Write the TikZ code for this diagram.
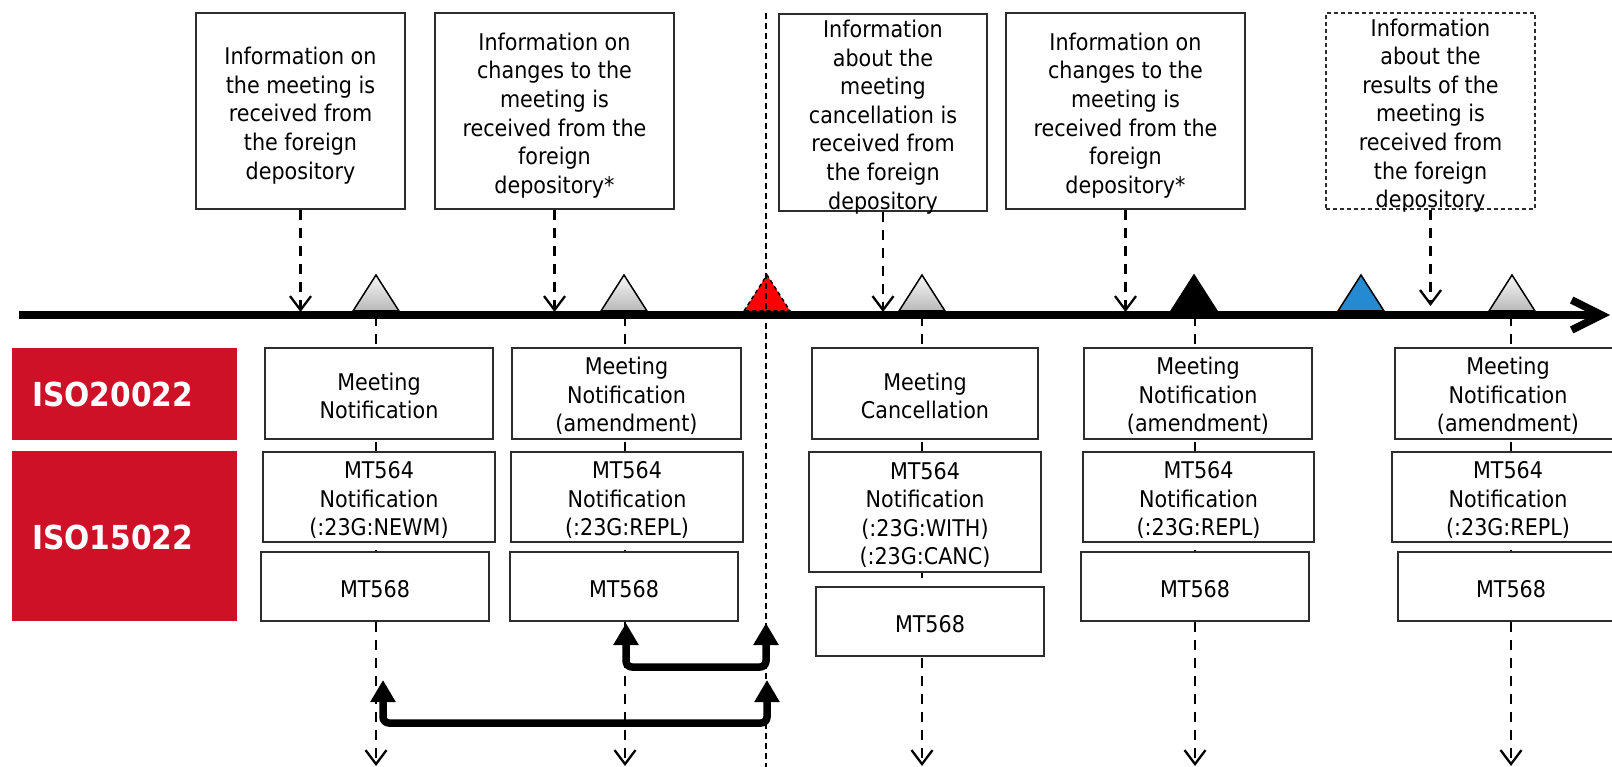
\documentclass[tikz,border=0pt]{standalone}
\usepackage{fontspec}
\newfontfamily\tah{DejaVu Sans Condensed}
\usetikzlibrary{arrows.meta}
\definecolor{isored}{RGB}{206,17,39}
\definecolor{tblue}{RGB}{36,138,210}
\definecolor{boxline}{RGB}{45,45,45}
\begin{document}
\begin{tikzpicture}[x=1pt,y=-1pt,
  box/.style={draw=boxline, line width=1.3pt, fill=white, inner sep=0pt},
  dbox/.style={box, dash pattern=on 4pt off 3pt},
  txt/.style={align=center, inner sep=0pt, yshift=-3pt, font=\tah\fontsize{23}{28.6}\selectfont},
  toptxt/.style={txt, yshift=-1.5pt},
  rowtxt/.style={txt, yshift=0.5pt},
  isobox/.style={fill=isored, inner sep=0pt},
  isotxt/.style={anchor=west, inner sep=0pt, text=white, font=\tah\bfseries\fontsize{33}{36}\selectfont},
  dasharrow/.style={line width=2.3pt, dash pattern=on 10pt off 8pt, -{Straight Barb[length=14pt,width=21pt]}},
  redline/.style={line width=1.7pt, dash pattern=on 6pt off 4pt},
  timeline/.style={line width=7.5pt, -{Straight Barb[length=30pt,width=30pt]}},
  bracketarrow/.style={line width=7.5pt, rounded corners=6pt, {Triangle[length=22pt,width=24pt]}-{Triangle[length=22pt,width=24pt]}},
  tri/.pic={\path[pic actions] (-23,-4) -- (0,-40) -- (23,-4) -- cycle;},
  tribase/.style={draw=black, line width=1.5pt}
]
\useasboundingbox (0,0) rectangle (1612,767);
\clip (0,0) rectangle (1612,767);

% column guide lines
\foreach \x/\n in {376/1,625/2,922/3,1195/4,1511/5}{
  \coordinate (ka\n) at (\x,316);
  \coordinate (kb\n) at (\x,766);
  \draw[dasharrow] (ka\n) -- (kb\n);
}

% timeline
\coordinate (ls) at (19,315);
\coordinate (le) at (1610,315);
\draw[timeline] (ls) -- (le);

% triangles
\pic[tribase, top color=gray!6, bottom color=gray!55] at (376,315) {tri};
\pic[tribase, top color=gray!6, bottom color=gray!55] at (624,315) {tri};
\pic[draw=black, line width=1.5pt, dash pattern=on 4pt off 3pt, fill=red] at (767,315) {tri};
\pic[tribase, top color=gray!6, bottom color=gray!55] at (922,315) {tri};
\pic[tribase, fill=black] at (1194,315) {tri};
\pic[tribase, fill=tblue] at (1361,315) {tri};
\pic[tribase, top color=gray!6, bottom color=gray!55] at (1512,315) {tri};

% red separator
\coordinate (rtop) at (766,13);
\coordinate (rbot) at (766,767);
\draw[redline] (rtop) -- (rbot);

% top boxes
\node[box, minimum width=209, minimum height=196] (t1) at (300.5,111) {};
\node[toptxt] (t1x) at (t1) {Information on\\the meeting is\\received from\\the foreign\\depository};
\node[box, minimum width=239, minimum height=196] (t2) at (554.5,111) {};
\node[toptxt] (t2x) at (t2) {Information on\\changes to the\\meeting is\\received from the\\foreign\\depository*};
\node[box, minimum width=208, minimum height=197] (t3) at (883,112.5) {};
\node[toptxt] (t3x) at (t3) {Information\\about the\\meeting\\cancellation is\\received from\\the foreign\\depository};
\node[box, minimum width=239, minimum height=196] (t4) at (1125.5,111) {};
\node[toptxt] (t4x) at (t4) {Information on\\changes to the\\meeting is\\received from the\\foreign\\depository*};
\node[dbox, minimum width=209, minimum height=196] (t5) at (1430.5,111) {};
\node[toptxt] (t5x) at (t5) {Information\\about the\\results of the\\meeting is\\received from\\the foreign\\depository};

% arrows from top boxes to the timeline
\coordinate (tl) at (0,312);
\coordinate (tl5) at (0,306);
\draw[dasharrow] (t1.south) -- (t1.south |- tl);
\draw[dasharrow] (t2.south) -- (t2.south |- tl);
\draw[dasharrow] (t3.south) -- (t3.south |- tl);
\draw[dasharrow] (t4.south) -- (t4.south |- tl);
\draw[dasharrow] (t5.south) -- (t5.south |- tl5);

% ISO labels
\node[isobox, minimum width=225, minimum height=92] (iso1) at (124.5,394) {};
\node[isotxt] (iso1x) at (32,394) {ISO20022};
\node[isobox, minimum width=225, minimum height=170] (iso2) at (124.5,536) {};
\node[isotxt] (iso2x) at (32,537) {ISO15022};

% row 1: ISO 20022 messages
\node[box, minimum width=228, minimum height=91] (a1) at (379,393.5) {};
\node[rowtxt] at (a1) {Meeting\\Notification};
\node[box, minimum width=229, minimum height=91] (a2) at (626.5,393.5) {};
\node[rowtxt] at (a2) {Meeting\\Notification\\(amendment)};
\node[box, minimum width=226, minimum height=91] (a3) at (925,393.5) {};
\node[rowtxt] at (a3) {Meeting\\Cancellation};
\node[box, minimum width=228, minimum height=91] (a4) at (1198,393.5) {};
\node[rowtxt] at (a4) {Meeting\\Notification\\(amendment)};
\node[box, minimum width=226, minimum height=91] (a5) at (1508,393.5) {};
\node[rowtxt] at (a5) {Meeting\\Notification\\(amendment)};

% row 2: MT564
\node[box, minimum width=232, minimum height=90] (b1) at (379,497) {};
\node[txt] at (b1) {MT564\\Notification\\(:23G:NEWM)};
\node[box, minimum width=232, minimum height=90] (b2) at (627,497) {};
\node[txt] at (b2) {MT564\\Notification\\(:23G:REPL)};
\node[box, minimum width=232, minimum height=120] (b3) at (925,512) {};
\node[txt] at (b3) {MT564\\Notification\\(:23G:WITH)\\(:23G:CANC)};
\node[box, minimum width=231, minimum height=90] (b4) at (1198.5,497) {};
\node[txt] at (b4) {MT564\\Notification\\(:23G:REPL)};
\node[box, minimum width=232, minimum height=90] (b5) at (1508,497) {};
\node[txt] at (b5) {MT564\\Notification\\(:23G:REPL)};

% row 3: MT568
\node[box, minimum width=228, minimum height=69] (c1) at (375,586.5) {};
\node[txt] at (c1) {MT568};
\node[box, minimum width=228, minimum height=69] (c2) at (624,586.5) {};
\node[txt] at (c2) {MT568};
\node[box, minimum width=228, minimum height=69] (c3) at (930,621.5) {};
\node[txt] at (c3) {MT568};
\node[box, minimum width=228, minimum height=69] (c4) at (1195,586.5) {};
\node[txt] at (c4) {MT568};
\node[box, minimum width=226, minimum height=69] (c5) at (1511,586.5) {};
\node[txt] at (c5) {MT568};

% bracket arrows
\coordinate (aL) at (626,623);
\coordinate (aR) at (766,623);
\coordinate (aM) at (766,667);
\draw[bracketarrow] (aL) |- (aM) -- (aR);
\coordinate (bL) at (383,680);
\coordinate (bR) at (767,680);
\coordinate (bM) at (767,723);
\draw[bracketarrow] (bL) |- (bM) -- (bR);
\end{tikzpicture}
\end{document}
